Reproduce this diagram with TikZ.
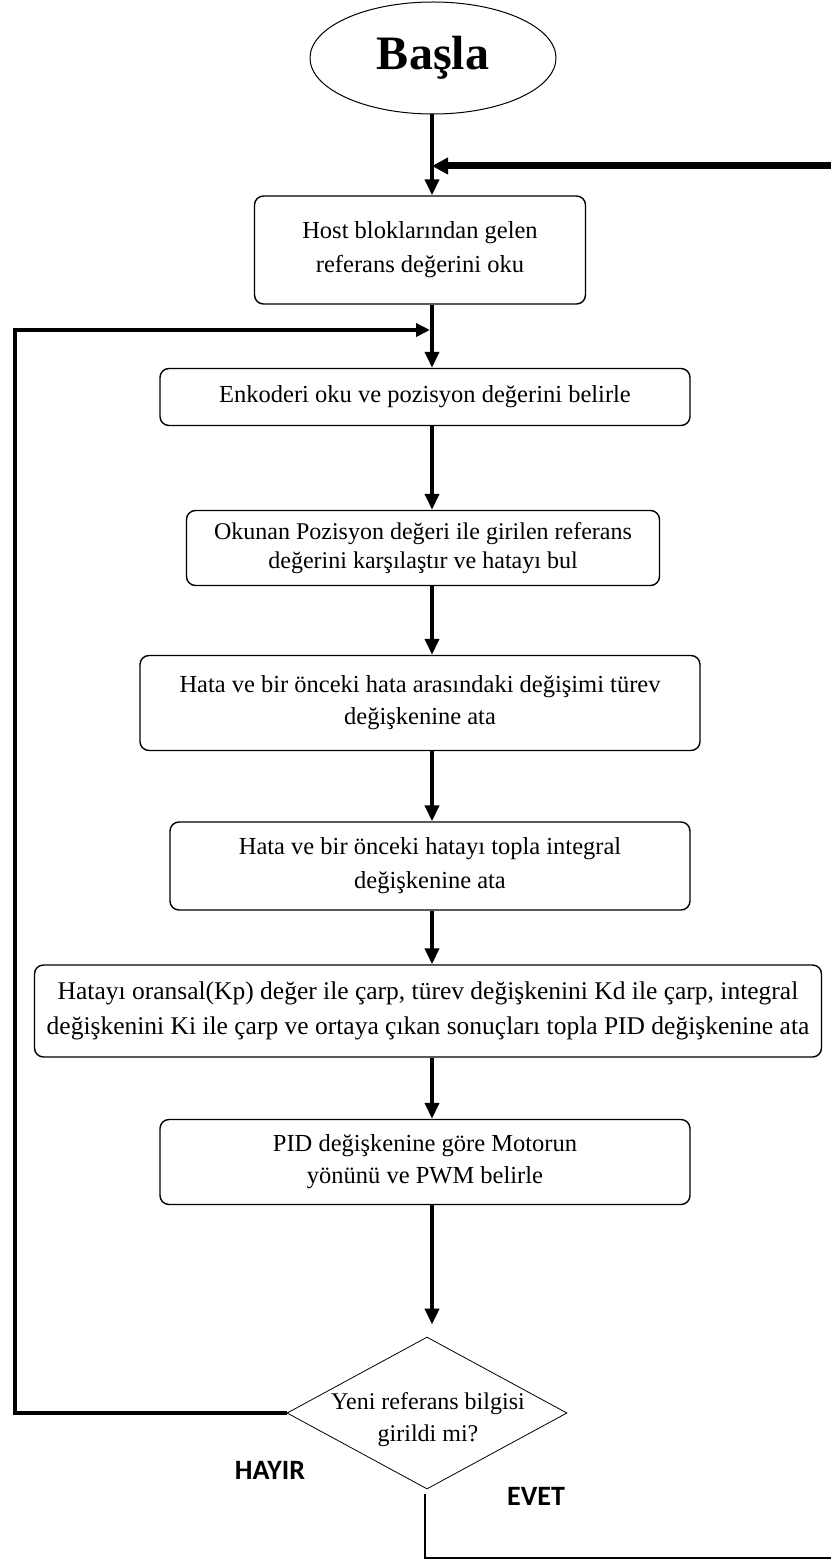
\documentclass[tikz,border=0pt]{standalone}
\usepackage{fontspec}
\setmainfont{Liberation Serif}
\newfontfamily\labelfont{Carlito}
\usetikzlibrary{shapes.geometric,arrows.meta,calc}
\begin{document}
\begin{tikzpicture}[x=1pt,y=-1pt,
  procbox/.style={draw,line width=1.4pt,rounded corners=9pt,align=center,
    font=\fontsize{24.5}{34}\selectfont,inner sep=0pt},
  flow/.style={line width=4.5pt,-{Triangle[width=14pt,length=16pt]}},
  yesno/.style={font=\labelfont\bfseries\fontsize{28}{32}\selectfont}]
\useasboundingbox (0,0) rectangle (831,1562);

% start terminal
\node[draw,ellipse,line width=1pt,minimum width=246pt,minimum height=112pt,
  font=\bfseries\fontsize{48}{52}\selectfont] (start) at (433,58) {Başla};

% process steps
\node[procbox,minimum width=331pt,minimum height=108pt] (b1) at (420,250)
  {Host bloklarından gelen\\referans değerini oku};
\node[procbox,minimum width=530pt,minimum height=57pt] (b2) at (425,397)
  {Enkoderi oku ve pozisyon değerini belirle};
\node[procbox,minimum width=473pt,minimum height=75pt,font=\fontsize{24}{29}\selectfont] (b3) at (423,548)
  {Okunan Pozisyon değeri ile girilen referans\\değerini karşılaştır ve hatayı bul};
\node[procbox,minimum width=560pt,minimum height=95pt,font=\fontsize{24.5}{32}\selectfont] (b4) at (420,703)
  {Hata ve bir önceki hata arasındaki değişimi türev\\değişkenine ata};
\node[procbox,minimum width=520pt,minimum height=88pt] (b5) at (430,866)
  {Hata ve bir önceki hatayı topla integral\\değişkenine ata};
\node[procbox,minimum width=787pt,minimum height=92pt,font=\fontsize{25.5}{35}\selectfont] (b6) at (428,1011)
  {Hatayı oransal(Kp) değer ile çarp, türev değişkenini Kd ile çarp, integral\\değişkenini Ki ile çarp ve ortaya çıkan sonuçları topla PID değişkenine ata};
\node[procbox,minimum width=530pt,minimum height=85pt,font=\fontsize{24.5}{32}\selectfont] (b7) at (425,1162)
  {PID değişkenine göre Motorun\\yönünü ve PWM belirle};

% decision: outline and its question
\node[draw,diamond,line width=0.8pt,minimum width=280pt,minimum height=152pt,
  inner sep=0pt] (dec) at (427,1413) {};
\node[align=center,inner sep=0pt,font=\fontsize{24}{32}\selectfont] (dectext) at (428,1420)
  {Yeni referans bilgisi\\girildi mi?};

% branch labels
\node[yesno] (hayir) at (270,1470) {HAYIR};
\node[yesno] (evet) at (536,1496) {EVET};

% trunk position and loop corners
\coordinate (trunk) at (432,0);
\coordinate (rin) at (831,166);
\coordinate (lt) at (15,330);
\coordinate (lb) at (15,1413);
\coordinate (evtop) at ($(dec.south)+(-2,5)$);
\coordinate (rout) at (831,1558);

% main flow
\draw[flow] (start.south -| trunk) -- (b1.north -| trunk);
\draw[flow] (b1.south -| trunk) -- (b2.north -| trunk);
\draw[flow] (b2.south -| trunk) -- (b3.north -| trunk);
\draw[flow] (b3.south -| trunk) -- (b4.north -| trunk);
\draw[flow] (b4.south -| trunk) -- (b5.north -| trunk);
\draw[flow] (b5.south -| trunk) -- (b6.north -| trunk);
\draw[flow] (b6.south -| trunk) -- (b7.north -| trunk);
\draw[flow,shorten >=12pt] (b7.south -| trunk) -- (dec.north -| trunk);

% return from the right (new reference)
\draw[line width=7pt,-{Triangle[width=16pt,length=16pt]}] (rin) -- (rin -| trunk);

% HAYIR loop back to the encoder read
\draw[line width=4pt,-{Triangle[width=13pt,length=14pt]}] (dec.west) -- (lb) -- (lt) -- ($(lt -| trunk)+(-2,0)$);

% EVET branch leaving to the right
\draw[line width=2.5pt] (evtop) -- (evtop |- rout) -- (rout);
\end{tikzpicture}
\end{document}
